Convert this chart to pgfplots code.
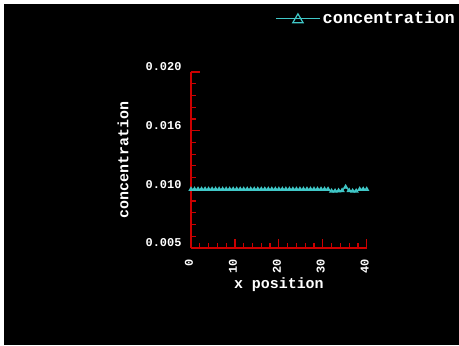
\documentclass[border=0pt]{standalone}
\usepackage{pgfplots}
\pgfplotsset{compat=1.18}
\usepackage{fontspec}
\setmainfont{Liberation Mono}
\definecolor{axred}{RGB}{204,0,0}
\definecolor{cyanl}{RGB}{64,200,200}
\pgfplotstableread{
x y
0.0 0.0100
0.8 0.0100
1.6 0.0100
2.4 0.0100
3.2 0.0100
4.0 0.0100
4.8 0.0100
5.6 0.0100
6.4 0.0100
7.2 0.0100
8.0 0.0100
8.8 0.0100
9.6 0.0100
10.4 0.0100
11.2 0.0100
12.0 0.0100
12.8 0.0100
13.6 0.0100
14.4 0.0100
15.2 0.0100
16.0 0.0100
16.8 0.0100
17.6 0.0100
18.4 0.0100
19.2 0.0100
20.0 0.0100
20.8 0.0100
21.6 0.0100
22.4 0.0100
23.2 0.0100
24.0 0.0100
24.8 0.0100
25.6 0.0100
26.4 0.0100
27.2 0.0100
28.0 0.0100
28.8 0.0100
29.6 0.0100
30.4 0.0100
31.2 0.0100
32.0 0.00985
32.8 0.00985
33.6 0.00988
34.4 0.0099
35.2 0.0102
36.0 0.0099
36.8 0.00985
37.6 0.00985
38.4 0.0100
39.2 0.0100
40.0 0.0100
}\conc
\begin{document}
\begin{tikzpicture}[x=1bp,y=1bp]
\fill[white] (0,0) rectangle (459,345);
\fill[black] (4,0) rectangle (459,341);
\useasboundingbox (0,0) rectangle (459,345);
\begin{axis}[
  at={(191bp,97bp)}, anchor=south west,
  scale only axis, width=175.7bp, height=176bp,
  xmin=0, xmax=40, ymin=0.005, ymax=0.020,
  scaled y ticks=false, scaled x ticks=false,
  axis lines*=left,
  axis line style={axred, line width=1.2bp},
  every tick/.style={axred, line width=1.2bp},
  tick align=inside,
  major tick length=9bp, minor tick length=5bp,
  xtick={0,10,20,30,40}, xticklabels={0,10,20,30,40},
  ytick={0.005,0.010,0.015,0.020}, yticklabels={0.005,0.010,0.016,0.020},
  minor x tick num=4, minor y tick num=4,
  tick label style={white, font=\bfseries\fontsize{12}{14}\selectfont},
  xticklabel style={yshift=-8bp, xshift=-2bp, rotate=90, anchor=east},
  yticklabel style={yshift=5bp, xshift=-6bp},
  xlabel={x position}, ylabel={concentration},
  label style={white, font=\bfseries\fontsize{15}{17}\selectfont},
  xlabel style={at={(axis description cs:0.5,-0.21)}, anchor=center},
  ylabel style={at={(axis description cs:-0.387,0.5)}, anchor=center, rotate=0},
  clip=false,
  legend style={at={(axis description cs:0.478,1.305)}, anchor=west, draw=none, fill=none, text=white,
    font=\bfseries\fontsize{17}{19}\selectfont, inner sep=0pt},
  legend image code/.code={%
    \draw[draw=cyanl, line width=1.5bp] plot[mark=triangle, mark size=6bp, mark indices={2}, mark options={solid, draw=cyanl, line width=1.2bp, yshift=-1.5bp}] coordinates {(0bp,0bp)(22bp,0bp)(44bp,0bp)};},
]
\addplot[cyanl, line width=1.2bp, mark=triangle, mark size=1.9bp] table {\conc};
\addlegendentry{concentration}
\end{axis}
\end{tikzpicture}
\end{document}
